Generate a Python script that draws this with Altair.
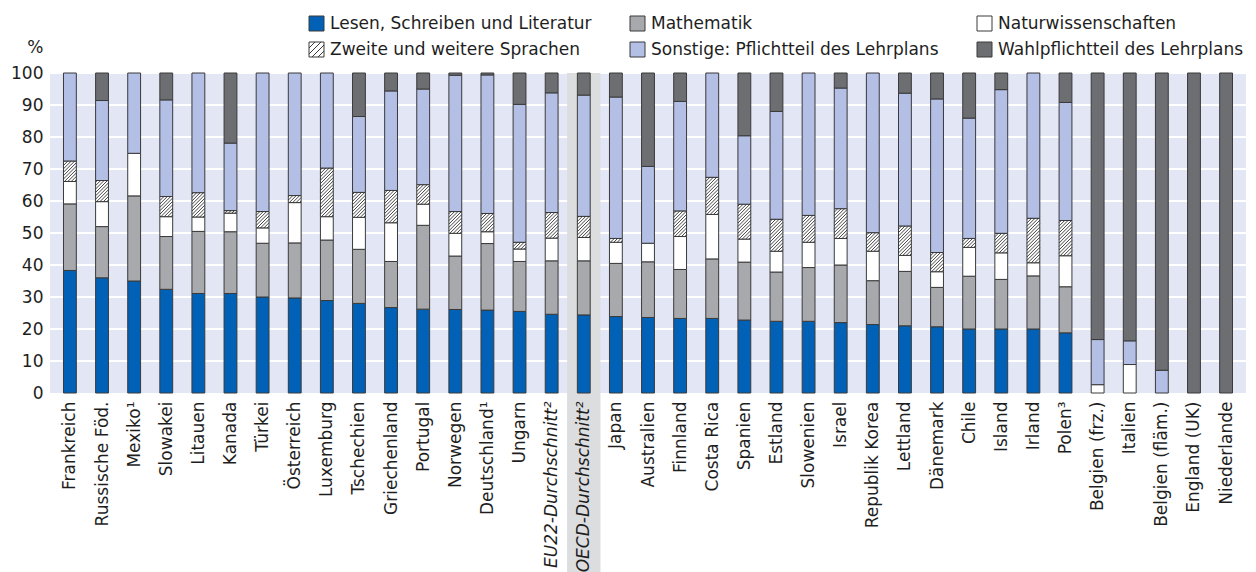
import json
import numpy as np
import pandas as pd
import altair as alt

countries = ["Frankreich", "Russische Föd.", "Mexiko¹", "Slowakei", "Litauen", "Kanada",
             "Türkei", "Österreich", "Luxemburg", "Tschechien", "Griechenland", "Portugal",
             "Norwegen", "Deutschland¹", "Ungarn", "EU22-Durchschnitt²", "OECD-Durchschnitt²",
             "Japan", "Australien", "Finnland", "Costa Rica", "Spanien", "Estland", "Slowenien",
             "Israel", "Republik Korea", "Lettland", "Dänemark", "Chile", "Island", "Irland",
             "Polen³", "Belgien (frz.)", "Italien", "Belgien (fläm.)", "England (UK)", "Niederlande"]

categories = ["Lesen, Schreiben und Literatur", "Mathematik", "Naturwissenschaften",
              "Zweite und weitere Sprachen", "Sonstige: Pflichtteil des Lehrplans",
              "Wahlpflichtteil des Lehrplans"]

lesen = [38.3, 36.0, 35.0, 32.4, 31.1, 31.1, 30.0, 29.7, 28.9, 28.0, 26.7, 26.2, 26.1, 25.9,
         25.5, 24.6, 24.4, 23.9, 23.6, 23.3, 23.3, 22.8, 22.4, 22.4, 22.0, 21.4, 21.0, 20.7,
         20.0, 20.0, 20.0, 18.8, 0, 0, 0, 0, 0]
mathe = [20.8, 16.0, 26.6, 16.5, 19.4, 19.3, 16.8, 17.2, 18.9, 16.9, 14.4, 26.2, 16.7, 20.8,
         15.6, 16.7, 16.9, 16.6, 17.4, 15.3, 18.6, 18.1, 15.4, 16.8, 18.0, 13.7, 17.0, 12.3,
         16.5, 15.5, 16.6, 14.4, 0, 0, 0, 0, 0]
natur = [7.0, 7.8, 13.3, 6.2, 4.5, 5.8, 4.8, 12.6, 7.3, 10.0, 12.1, 6.6, 7.1, 3.7,
         3.9, 7.1, 7.3, 6.6, 5.8, 10.3, 13.9, 7.2, 6.5, 7.9, 8.3, 9.2, 5.0, 4.9,
         9.0, 8.3, 4.1, 9.7, 2.6, 8.9, 0, 0, 0]
sprachen = [6.4, 6.6, 0, 6.3, 7.6, 0.8, 5.1, 2.2, 15.2, 7.8, 10.1, 6.1, 6.8, 5.7,
            2.1, 8.0, 6.6, 1.2, 0, 8.0, 11.6, 10.9, 10.0, 8.4, 9.3, 5.8, 9.2, 6.0,
            2.8, 6.1, 13.9, 11.0, 0, 0, 0, 0, 0]
sonstige = [27.5, 25.0, 25.1, 30.2, 37.4, 21.1, 43.3, 38.3, 29.7, 23.7, 31.1, 29.9, 42.6, 43.3,
            43.1, 37.4, 37.9, 44.2, 24.0, 34.2, 32.6, 21.4, 33.7, 44.5, 37.7, 49.9, 41.5, 48.0,
            37.6, 44.9, 45.4, 36.9, 14.1, 7.4, 7.1, 0, 0]
wahl = [0, 8.6, 0, 8.4, 0, 21.9, 0, 0, 0, 13.6, 5.6, 5.0, 0.7, 0.6,
        9.8, 6.2, 6.9, 7.5, 29.2, 8.9, 0, 19.6, 12.0, 0, 4.7, 0, 6.3, 8.1,
        14.1, 5.2, 0, 9.2, 83.3, 83.7, 92.9, 100, 100]

y_ticks = list(range(0, 101, 10))

colors = ["#0061b6", "#a8a9ac", "#ffffff", "#ffffff", "#b3bfe5", "#6d6e71"]
square = "M-1,-1H1V1H-1Z"
hatched = square + "M-1,-0.2L-0.2,-1M-1,0.6L0.6,-1M-0.6,1L1,-0.6M0.2,1L1,0.2"
shapes = [square, square, square, hatched, square, square]

FONT = "DejaVu Sans"
TXT = "#1e1e1e"
OUTLINE = "#3a3a3a"
BG = "#e3e6f4"
W, H = 1196, 320
XMIN, XMAX = -0.62, len(countries) - 1 + 0.62
HW = 0.2  # half bar width in band units

series = [lesen, mathe, natur, sprachen, sonstige, wahl]
rows = []
for i, c in enumerate(countries):
    for k, cat in enumerate(categories):
        v = series[k][i]
        if v > 0:
            rows.append({"country": c, "idx": i, "category": cat, "order": k, "value": v})
df = pd.DataFrame(rows)

# hatch lines for "Zweite und weitere Sprachen" segments
px_per_y = H / 100.0
bar_px = 2 * HW * W / (XMAX - XMIN)
rise = bar_px / px_per_y
gap = 3.4 / px_per_y
hrows = []
for i in range(len(countries)):
    lo = lesen[i] + mathe[i] + natur[i]
    hi = lo + sprachen[i]
    if sprachen[i] <= 0:
        continue
    for c0 in np.arange(lo - rise + gap / 2, hi, gap):
        t0 = max(0.0, (lo - c0) / rise)
        t1 = min(1.0, (hi - c0) / rise)
        if t1 - t0 <= 1e-6:
            continue
        hrows.append({"hx": i - HW + 2 * HW * t0, "hx2": i - HW + 2 * HW * t1,
                      "hy": c0 + rise * t0, "hy2": c0 + rise * t1})
hdf = pd.DataFrame(hrows)

hl_idx = countries.index("OECD-Durchschnitt²")
hldf = pd.DataFrame({"idx": [hl_idx], "top": [100]})
italic_idx = [i for i, c in enumerate(countries) if "Durchschnitt" in c]
italic_test = " || ".join(f"datum.value == {i}" for i in italic_idx)
gdf = pd.DataFrame({"v": y_ticks[1:]})
bgdf = pd.DataFrame({"bx": [XMIN], "bx2": [XMAX], "by": [0], "by2": [100]})

xscale = alt.Scale(domain=[XMIN, XMAX], nice=False, zero=False)
yscale = alt.Scale(domain=[0, 100], nice=False, zero=True)
cscale = alt.Scale(domain=categories, range=colors)
sscale = alt.Scale(domain=categories, range=shapes)
kscale = alt.Scale(domain=categories, range=[OUTLINE] * len(categories))

xaxis = alt.Axis(
    values=list(range(len(countries))),
    labelExpr=json.dumps(countries, ensure_ascii=False) + "[datum.value]",
    labelAngle=-90, ticks=False, domain=False, grid=False, labelPadding=8,
    labelFontSize=17, labelFont=FONT, labelColor=TXT, labelOverlap=False,
    labelFlush=False, title=None, zindex=1,
    labelFontStyle={"condition": {"test": italic_test, "value": "italic"}, "value": "normal"},
)
yaxis = alt.Axis(
    values=y_ticks, ticks=False, domain=False, grid=False,
    labelPadding=7, labelFontSize=17, labelFont=FONT, labelColor=TXT,
    title="%", titleAngle=0, titleX=-7, titleY=-26, titleAlign="right", titleBaseline="middle",
    titleFontWeight="normal", titleFontSize=17, titleFont=FONT, titleColor=TXT,
)

leg = alt.Legend(
    orient="none", legendX=258, legendY=-58, columns=3, direction="horizontal", title=None,
    symbolSize=225, labelFontSize=17, labelFont=FONT, labelColor=TXT,
    labelOffset=5, columnPadding=36, rowPadding=7, labelLimit=500,
    symbolStrokeColor=OUTLINE, symbolStrokeWidth=1, symbolOpacity=1,
)

legend_layer = alt.Chart(df).transform_filter("false").mark_point(
    filled=True, strokeWidth=1, opacity=1
).encode(
    color=alt.Color("category:N", scale=cscale, legend=leg),
    shape=alt.Shape("category:N", scale=sscale, legend=leg),
    stroke=alt.Stroke("category:N", scale=kscale, legend=leg),
)

background = alt.Chart(bgdf).mark_rect(fill=BG).encode(
    x=alt.X("bx:Q", scale=xscale, axis=xaxis),
    x2="bx2:Q",
    y=alt.Y("by:Q", scale=yscale, axis=yaxis),
    y2="by2:Q",
)
background_px = alt.Chart(bgdf).mark_rect(fill=BG).encode(
    x=alt.value(0), x2=alt.value(W), y=alt.value(0), y2=alt.value(H),
)

grid = alt.Chart(gdf).mark_rule(color="white", strokeWidth=2).encode(
    y=alt.Y("v:Q", scale=yscale, axis=yaxis),
    x=alt.value(0),
    x2=alt.value(W),
)

highlight = alt.Chart(hldf).transform_calculate(
    a="datum.idx - 0.52", b="datum.idx + 0.52"
).mark_rect(color="#dcdddf", clip=False).encode(
    x=alt.X("a:Q", scale=xscale, axis=xaxis),
    x2="b:Q",
    y=alt.Y("top:Q", scale=yscale, axis=yaxis),
    y2=alt.value(H + 179),
)

bars = alt.Chart(df).transform_stack(
    stack="value", groupby=["country"], as_=["s0", "s1"],
    sort=[alt.SortField("order", order="ascending")]
).transform_calculate(
    xl=f"datum.idx - {HW}", xr=f"datum.idx + {HW}"
).mark_bar(stroke=OUTLINE, strokeWidth=1).encode(
    x=alt.X("xl:Q", scale=xscale, axis=xaxis),
    x2="xr:Q",
    y=alt.Y("s0:Q", scale=yscale, axis=yaxis),
    y2="s1:Q",
    fill=alt.Fill("category:N", scale=cscale, legend=leg),
)

hatch = alt.Chart(hdf).mark_rule(color="#2e2e2e", strokeWidth=0.9).encode(
    x=alt.X("hx:Q", scale=xscale, axis=xaxis),
    x2="hx2:Q",
    y=alt.Y("hy:Q", scale=yscale, axis=yaxis),
    y2="hy2:Q",
)

chart = alt.layer(legend_layer, background_px, background, grid, highlight, bars, hatch).properties(
    width=W, height=H,
    autosize=alt.AutoSizeParams(type="none"),
    padding={"left": 42, "top": 65, "right": 2, "bottom": 179},
).configure_view(fill=BG, strokeWidth=0)

chart.save("out.html", embed_options={"renderer": "svg", "actions": False})
